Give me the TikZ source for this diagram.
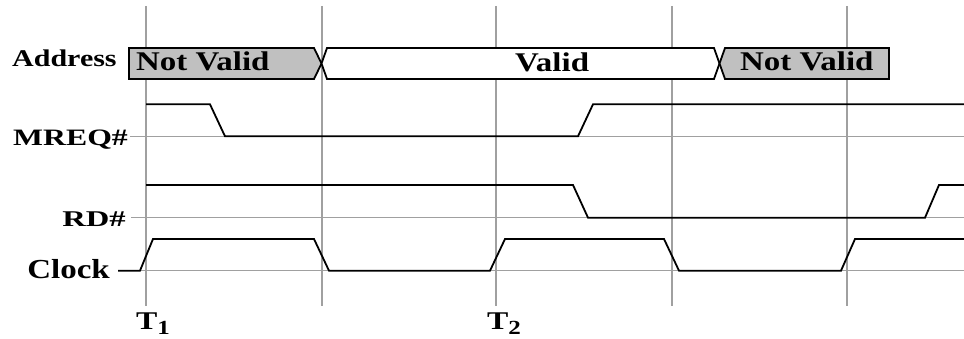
\documentclass[tikz,border=0pt]{standalone}
\usepackage{fontspec}
\setmainfont{Liberation Serif}
\usepackage{graphicx}
\usepackage{tikz}
\newcommand{\lbl}[3][1.25]{\fontsize{#2}{#2}\selectfont\bfseries\scalebox{#1}[1]{#3}}
\definecolor{busgray}{RGB}{192,192,192}
\definecolor{gridgray}{RGB}{160,160,160}
\tikzset{
  gridline/.style={color=gridgray, line width=1.2pt},
  wave/.style={line width=1.8pt, line join=miter},
  bus/.style={line width=1.8pt, line join=miter},
  lab/.style={inner sep=0pt}
}

\begin{document}
\begin{tikzpicture}[x=1pt,y=1pt,yscale=-1,xscale=1]
   \useasboundingbox (0,0) rectangle (964,339);

   %Grid: vertical lines at the clock edges
   \foreach \gx in {146,322,496,672,847}
     \draw [gridline] (\gx,6) -- (\gx,306);
   %Grid: horizontal lines
   \draw [gridline] (130,136.3) -- (964,136.3);
   \draw [gridline] (131,217.7) -- (964,217.7);
   \draw [gridline] (118,270.7) -- (964,270.7);

   %Shape: Polygon [Address, not valid]
   \draw [bus, fill=busgray] (129,48) -- (314,48) -- (321.5,63.5) -- (314,79) -- (129,79) -- cycle ;
   %Shape: Polygon [Address, valid]
   \draw [bus, fill=white] (327,48) -- (714,48) -- (719.5,63.5) -- (714,79) -- (327,79) -- (321.5,63.5) -- cycle ;
   %Shape: Polygon [Address, not valid]
   \draw [bus, fill=busgray] (725,48) -- (889,48) -- (889,79) -- (725,79) -- (719.5,63.5) -- cycle ;

   %Straight Lines [MREQ#]
   \draw [wave] (146,104.3) -- (210,104.3) -- (225,136.3) -- (578,136.3) -- (593,104.3) -- (964,104.3) ;
   %Straight Lines [RD#]
   \draw [wave] (146,185) -- (573,185) -- (588,217.7) -- (925,217.7) -- (939,185) -- (964,185) ;
   %Straight Lines [Clock]
   \draw [wave] (118,270.7) -- (140,270.7) -- (153,239) -- (314,239) -- (329,270.7) -- (490,270.7) -- (505,239) -- (664,239) -- (679,270.7) -- (841,270.7) -- (855,239) -- (964,239) ;

   % Text Node
   \draw (12,66.7) node (address) [lab, anchor=base west] {\lbl{24}{Address}};
   % Text Node
   \draw (128,146) node (mreq) [lab, anchor=base east] {\lbl[1.35]{23.5}{MREQ\#}};
   % Text Node
   \draw (126,226.7) node (rd) [lab, anchor=base east] {\lbl[1.45]{22.5}{RD\#}};
   % Text Node
   \draw (110,279) node (clock) [lab, anchor=base east] {\lbl[1.2]{27.5}{Clock}};
   % Text Node
   \draw (136,71) node (notvalida) [lab, anchor=base west] {\lbl[1.22]{27}{Not Valid}};
   % Text Node
   \draw (515,71.5) node (valid) [lab, anchor=base west] {\lbl[1.22]{27}{Valid}};
   % Text Node
   \draw (740,71) node (notvalidb) [lab, anchor=base west] {\lbl[1.22]{27}{Not Valid}};
   % Text Node
   \draw (136,329) node (tone) [lab, anchor=base west] {\lbl{25.5}{T\raisebox{-5.5pt}{\fontsize{20}{20}\selectfont 1}}};
   % Text Node
   \draw (487,329) node (ttwo) [lab, anchor=base west] {\lbl{25.5}{T\raisebox{-5.5pt}{\fontsize{20}{20}\selectfont 2}}};

\end{tikzpicture}
\end{document}
